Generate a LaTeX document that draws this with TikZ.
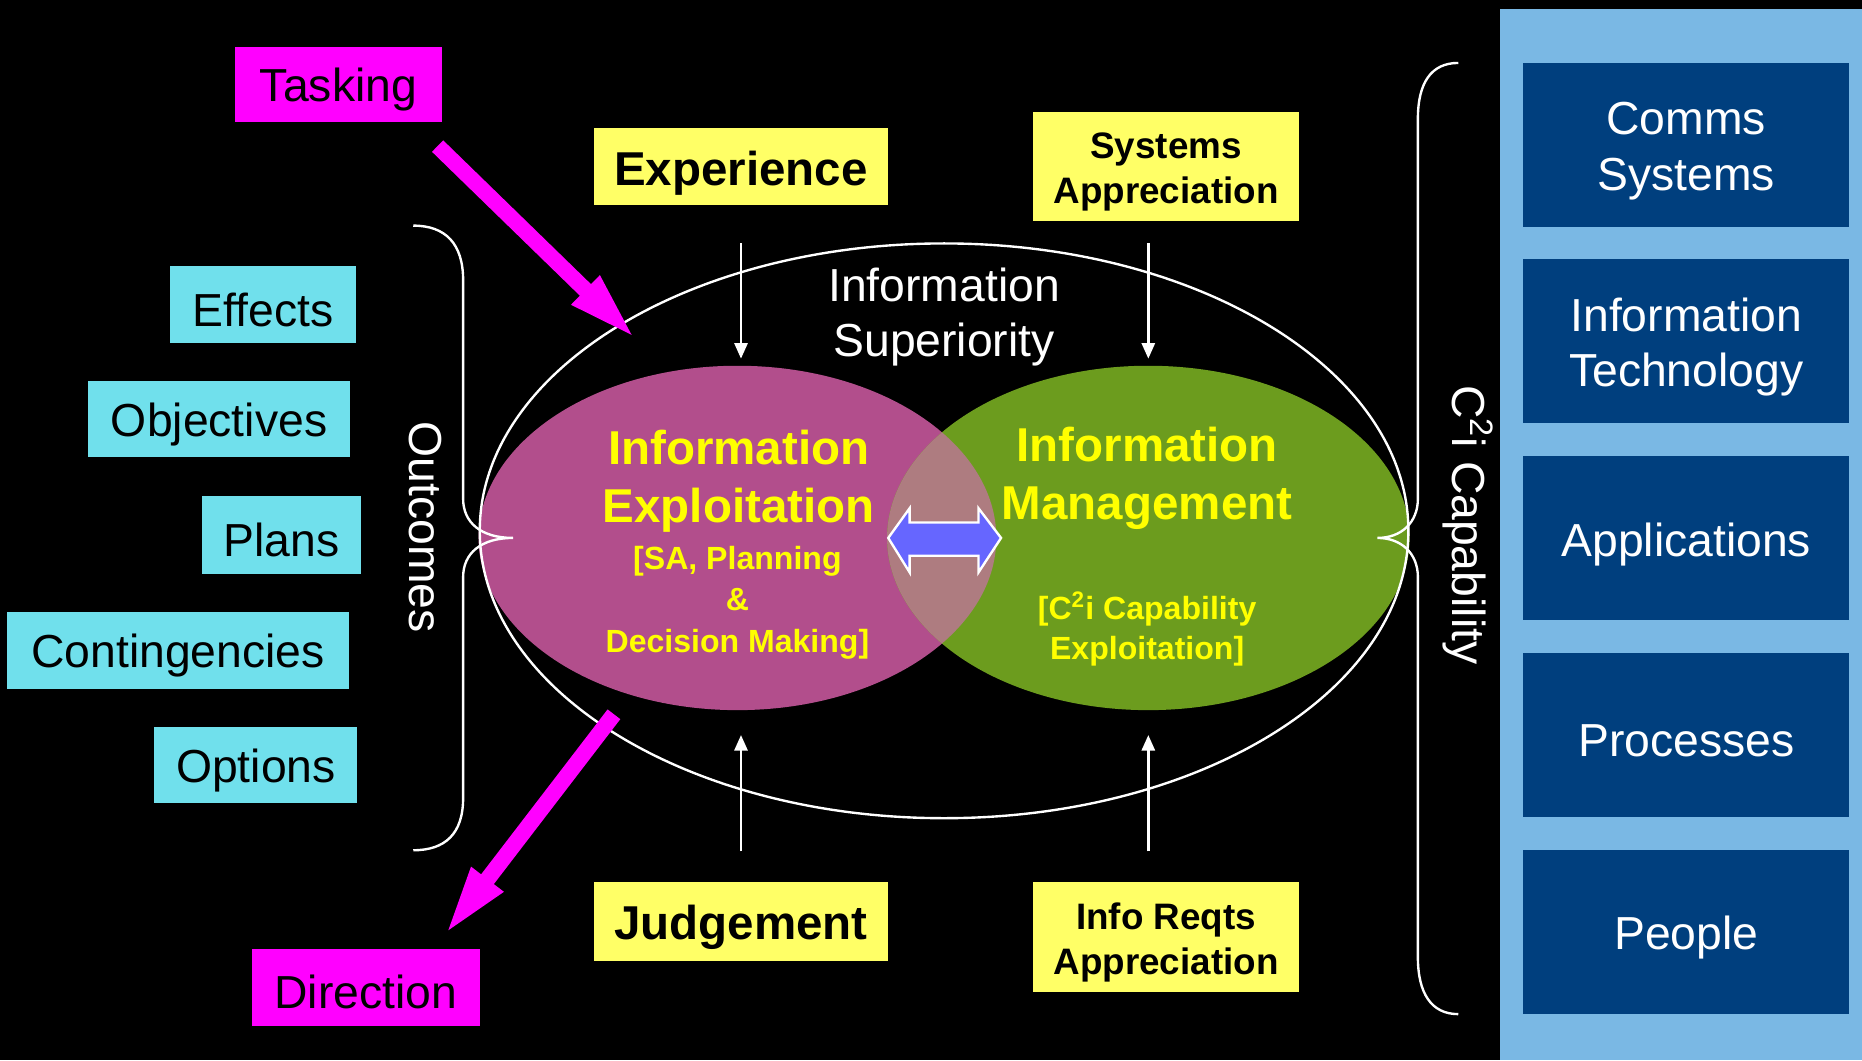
\documentclass[tikz,border=0pt]{standalone}
\usepackage{fontspec}
\setmainfont{Liberation Sans}
\usetikzlibrary{arrows.meta,calc}
\definecolor{cyanc}{HTML}{70E0EC}
\definecolor{yelbox}{HTML}{FFFF66}
\definecolor{magc}{HTML}{FF00FF}
\definecolor{panelc}{HTML}{7AB8E4}
\definecolor{darkbl}{HTML}{003F7E}
\definecolor{pinkc}{HTML}{B24E8C}
\definecolor{greenc}{HTML}{6C9C1E}
\definecolor{overc}{HTML}{AE7C80}
\definecolor{dblc}{HTML}{6666FF}
\definecolor{txtyel}{HTML}{FFFF00}
\tikzset{
  big/.style={font=\fontsize{19.5}{23.5}\selectfont},
  bigb/.style={font=\fontsize{20}{24.5}\selectfont\bfseries},
  midb/.style={font=\fontsize{15.5}{19}\selectfont\bfseries},
  cyanbox/.style={fill=cyanc, inner sep=0pt,
     label={[big, text=black, align=center, inner sep=0pt, yshift=-2.3pt]center:{#1}}},
  yelbig/.style={fill=yelbox, inner sep=0pt,
     label={[bigb, text=black, align=center, inner sep=0pt, yshift=-2.5pt]center:{#1}}},
  yelmid/.style={fill=yelbox, inner sep=0pt, minimum width=112pt, minimum height=46pt,
     label={[midb, text=black, align=center, inner sep=0pt, yshift=-2.5pt]center:{#1}}},
  magbox/.style={fill=magc, inner sep=0pt,
     label={[big, text=black, align=center, inner sep=0pt, yshift=-1.8pt]center:{#1}}},
  bluebox/.style={fill=darkbl, inner sep=0pt, minimum width=137.25pt, minimum height=69pt,
     label={[big, text=white, align=center, inner sep=0pt, yshift=-2.6pt]center:{#1}}},
  wharrow/.style={draw=white, line width=1pt, -{Triangle[width=5.5pt,length=6.5pt]}},
  magarrow/.style={draw=magc, line width=6.75pt, -{Triangle[width=15pt,length=30pt]}},
  bracestyle/.style={draw=white, line width=1pt},
}
\begin{document}
\begin{tikzpicture}[x=0.5pt,y=-0.5pt]
\fill[black] (0,0) rectangle (1568,893);
\useasboundingbox (0,0) rectangle (1568,893);

% right panel
\fill[panelc] (1263,8) rectangle (1568,893);
\node[bluebox={Comms\\Systems}] (comms) at (1420,122) {};
\node[bluebox={Information\\Technology}] (it) at (1420,287) {};
\node[bluebox={Applications}] (apps) at (1420,453) {};
\node[bluebox={Processes}] (proc) at (1420,619) {};
\node[bluebox={People}] (people) at (1420,784.5) {};

% ellipses
\fill[pinkc] (621,453) ellipse [x radius=218, y radius=145];
\fill[greenc] (967,453) ellipse [x radius=220, y radius=145];
\begin{scope}
  \clip (621,453) ellipse [x radius=218, y radius=145];
  \fill[overc] (967,453) ellipse [x radius=220, y radius=145];
\end{scope}
\draw[white, line width=1pt] (795,447) ellipse [x radius=391, y radius=242];

% texts inside
\node[text=white, big, align=center] (isup) at (795,267) {Information\\Superiority};
\node[text=txtyel, bigb, align=center] (ie) at (622,405) {Information\\Exploitation};
\node[text=txtyel, font=\fontsize{13.5}{17.5}\selectfont\bfseries, align=center] (iesub) at (621,507.5)
  {[SA, Planning\\\&\\Decision Making]};
\node[text=txtyel, bigb, align=center] (im) at (966,403) {Information\\Management};
\node[text=txtyel, font=\fontsize{13.5}{16.5}\selectfont\bfseries, align=center] (imsub) at (966,529.5)
  {[C\textsuperscript{2}i Capability\\Exploitation]};

% double arrow
\filldraw[fill=dblc, draw=white, line width=1pt, line join=miter]
  (748,453) -- (766,428) -- (766,440) -- (824,440) -- (824,428) -- (843,453)
  -- (824,482) -- (824,468) -- (766,468) -- (766,482) -- cycle;

% yellow boxes
\node[yelbig={Experience}, minimum width=124pt, minimum height=32.5pt] (exp) at (624,140.5) {};
\node[yelbig={Judgement}, minimum width=124pt, minimum height=33pt] (judg) at (624,776) {};
\node[yelmid={Systems\\Appreciation}] (sys) at (982,140) {};
\node[yelmid={Info Reqts\\Appreciation}] (irq) at (982,789) {};

% white arrows
\coordinate (a1s) at (624,205); \coordinate (a1e) at (624,302);
\coordinate (a2s) at (967,205); \coordinate (a2e) at (967,302);
\coordinate (a3s) at (624,717); \coordinate (a3e) at (624,619);
\coordinate (a4s) at (967,717); \coordinate (a4e) at (967,619);
\draw[wharrow] (a1s) -- (a1e);
\draw[wharrow] (a2s) -- (a2e);
\draw[wharrow] (a3s) -- (a3e);
\draw[wharrow] (a4s) -- (a4e);

% magenta boxes and arrows
\node[magbox={Tasking}, minimum width=87pt, minimum height=31.5pt] (task) at (285,71.5) {};
\node[magbox={Direction}, minimum width=96pt, minimum height=32.5pt] (dir) at (308,831.5) {};
\coordinate (t1) at (368.5,123); \coordinate (t2) at (536,286);
\coordinate (d1) at (517,601.5); \coordinate (d2) at (374,788);
\draw[magarrow] (t1) -- (t2);
\draw[magarrow] (d1) -- (d2);

% cyan boxes
\node[cyanbox={Effects}, minimum width=78.5pt, minimum height=32.5pt] (eff) at (221.5,256.5) {};
\node[cyanbox={Objectives}, minimum width=110.5pt, minimum height=32pt] (obj) at (184.5,353) {};
\node[cyanbox={Plans}, minimum width=67pt, minimum height=32.5pt] (plans) at (237,450.5) {};
\node[cyanbox={Contingencies}, minimum width=144pt, minimum height=32.5pt] (cont) at (150,547.5) {};
\node[cyanbox={Options}, minimum width=85.5pt, minimum height=32pt] (opt) at (215.5,644) {};

% braces
\draw[bracestyle] (348,190) .. controls (375,190) and (390,205) .. (390,236) -- (390,420)
  .. controls (390,440) and (405,453) .. (432,453)
  .. controls (405,453) and (390,466) .. (390,486) -- (390,672)
  .. controls (390,702) and (375,716) .. (348,716);
\draw[bracestyle] (1228,53) .. controls (1205,53) and (1194,70) .. (1194,100) -- (1194,420)
  .. controls (1194,440) and (1180,453) .. (1160,453)
  .. controls (1180,453) and (1194,466) .. (1194,486) -- (1194,806)
  .. controls (1194,836) and (1205,854) .. (1228,854);

\node[text=white, big, rotate=-90] (outc) at (358,444) {Outcomes};
\node[text=white, big, rotate=-90] (c2i) at (1236,442) {C\textsuperscript{2}i Capability};
\end{tikzpicture}
\end{document}
